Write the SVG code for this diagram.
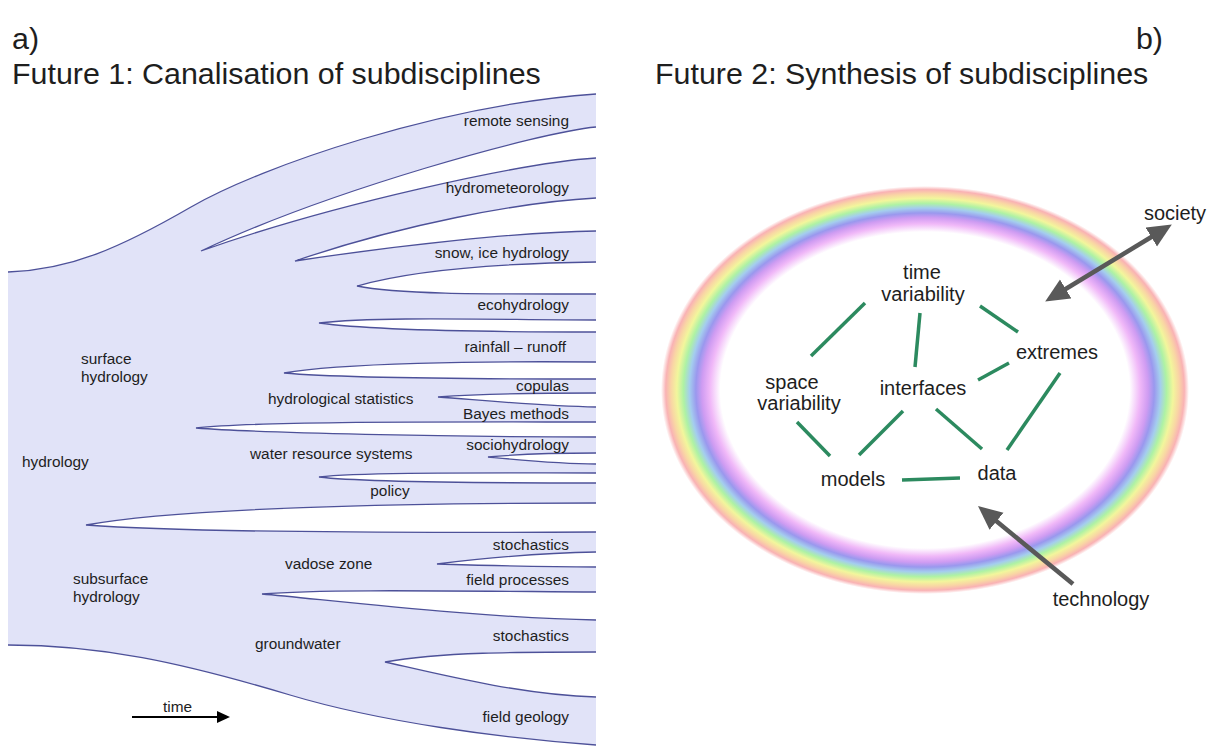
<svg xmlns="http://www.w3.org/2000/svg" width="1212" height="746" viewBox="0 0 1212 746">
<style>
text{font-family:"Liberation Sans",Arial,sans-serif;fill:#1e1e1e}
.title{font-size:30.4px}
.sm{font-size:15.4px}
.r{text-anchor:end}
.m{text-anchor:middle}
.lg{font-size:20px;text-anchor:middle}
.edge{fill:none;stroke:#4d5199;stroke-width:1.3}
.gap{fill:#ffffff;stroke:#4d5199;stroke-width:1.3}
.link{stroke:#2c8a5f;stroke-width:3.5;stroke-linecap:butt}
.ext{stroke:#595959;stroke-width:4.5;fill:none}
</style>
<defs>
<radialGradient id="rainbow" cx="0.5" cy="0.5" r="0.5">
<stop offset="0" stop-color="#ffffff"/>
<stop offset="0.775" stop-color="#ffffff"/>
<stop offset="0.815" stop-color="#f0b8f8"/>
<stop offset="0.845" stop-color="#cf9cf2"/>
<stop offset="0.868" stop-color="#9a98ee"/>
<stop offset="0.892" stop-color="#a4cdee"/>
<stop offset="0.915" stop-color="#aef2a4"/>
<stop offset="0.94" stop-color="#f2f69c"/>
<stop offset="0.962" stop-color="#f9d6a4"/>
<stop offset="0.982" stop-color="#f9b2b4"/>
<stop offset="1" stop-color="#ffffff"/>
</radialGradient>
<marker id="head" markerUnits="userSpaceOnUse" markerWidth="26" markerHeight="24" refX="2" refY="11" orient="auto-start-reverse">
<path d="M0,0 L24,11 L0,22 Z" fill="#595959"/>
</marker>
<marker id="blackhead" markerUnits="userSpaceOnUse" markerWidth="14" markerHeight="14" refX="1" refY="6" orient="auto">
<path d="M0,0 L13,6 L0,12 Z" fill="#000000"/>
</marker>
</defs>
<rect width="1212" height="746" fill="#ffffff"/>

<g id="headings">
<text class="title" x="12" y="49">a)</text>
<text class="title r" x="1163" y="49">b)</text>
<text class="title" x="12" y="84">Future 1: Canalisation of subdisciplines</text>
<text class="title" x="655" y="84">Future 2: Synthesis of subdisciplines</text>
</g>

<g id="panel-a">
<path d="M8,272 C70,270 120,248 191,207 C262,166 440,105 596,94 L596,745 C500,738 380,722 290,695 C180,662 100,645 8,645 Z" fill="#e1e3f8"/>
<path class="edge" d="M8,272 C70,270 120,248 191,207 C262,166 440,105 596,94"/>
<path class="edge" d="M8,645 C100,645 180,662 290,695 C380,722 500,738 596,745"/>
<path class="gap" d="M596,127 C540,132 330,190 201,251 C330,205 520,163 596,158"/>
<path class="gap" d="M596,198 C520,202 400,225 295,261 C400,245 520,232 596,231"/>
<path class="gap" d="M596,262 C520,263 420,268 357,286 C400,295 500,294 596,294"/>
<path class="gap" d="M596,320 C500,320 380,316 319,323 C370,330 480,332 596,332"/>
<path class="gap" d="M596,362 C480,361 340,363 284,373 C340,378 480,379 596,379"/>
<path class="gap" d="M596,393 C540,393 480,394 438,397 C480,400 540,406 596,407"/>
<path class="gap" d="M596,422 C450,422 260,421 196,428 C260,433 450,437 596,437"/>
<path class="gap" d="M596,453 C560,453 520,454 488,457 C520,460 560,464 596,464"/>
<path class="gap" d="M596,473 C480,473 360,472 319,477 C360,482 480,483 596,483"/>
<path class="gap" d="M596,503 C400,503 180,508 86,525 C180,532 400,533 596,532"/>
<path class="gap" d="M596,552 C530,553 470,560 437,564 C470,565 530,567 596,567"/>
<path class="gap" d="M596,592 C450,591 320,589 262,594 C330,600 480,618 596,620"/>
<path class="gap" d="M596,652 C520,652 440,652 385,662 C430,672 520,695 596,697"/>

<g id="labels-a">
<text class="sm r" x="569" y="126">remote sensing</text>
<text class="sm r" x="569" y="193">hydrometeorology</text>
<text class="sm r" x="569" y="258">snow, ice hydrology</text>
<text class="sm r" x="569" y="310">ecohydrology</text>
<text class="sm r" x="566" y="352">rainfall – runoff</text>
<text class="sm r" x="569" y="391">copulas</text>
<text class="sm r" x="569" y="419">Bayes methods</text>
<text class="sm r" x="569" y="450">sociohydrology</text>
<text class="sm m" x="390" y="496">policy</text>
<text class="sm r" x="569" y="550">stochastics</text>
<text class="sm r" x="569" y="585">field processes</text>
<text class="sm r" x="569" y="641">stochastics</text>
<text class="sm r" x="569" y="722">field geology</text>
<text class="sm" x="81" y="364">surface</text>
<text class="sm" x="81" y="382">hydrology</text>
<text class="sm" x="22" y="467">hydrology</text>
<text class="sm" x="268" y="404">hydrological statistics</text>
<text class="sm" x="250" y="459">water resource systems</text>
<text class="sm" x="285" y="569">vadose zone</text>
<text class="sm" x="73" y="584">subsurface</text>
<text class="sm" x="73" y="602">hydrology</text>
<text class="sm" x="255" y="649">groundwater</text>
<text class="sm" x="163" y="712">time</text>
</g>
<line x1="132" y1="717" x2="218" y2="717" stroke="#000" stroke-width="2" marker-end="url(#blackhead)"/>
</g>

<g id="panel-b">
<ellipse id="ring" cx="925" cy="390" rx="264" ry="204" fill="url(#rainbow)"/>
<g id="connectors">
<line class="link" x1="865" y1="303" x2="811" y2="356"/>
<line class="link" x1="920" y1="313" x2="915" y2="367"/>
<line class="link" x1="980" y1="306" x2="1018" y2="332"/>
<line class="link" x1="978" y1="380" x2="1009" y2="363"/>
<line class="link" x1="1060" y1="373" x2="1007" y2="450"/>
<line class="link" x1="797" y1="422" x2="830" y2="456"/>
<line class="link" x1="903" y1="411" x2="859" y2="455"/>
<line class="link" x1="936" y1="409" x2="982" y2="449"/>
<line class="link" x1="902" y1="480" x2="960" y2="478"/>
<line class="ext" x1="1064" y1="290" x2="1153" y2="236" marker-start="url(#head)" marker-end="url(#head)"/>
<line class="ext" x1="1073" y1="584" x2="995" y2="520" marker-end="url(#head)"/>
</g>
<g id="n-time"><text class="lg" x="922" y="279">time</text><text class="lg" x="923" y="301">variability</text></g>
<g id="n-space"><text class="lg" x="792" y="389">space</text><text class="lg" x="799" y="410">variability</text></g>
<g id="n-interfaces"><text class="lg" x="923" y="395">interfaces</text></g>
<g id="n-extremes"><text class="lg" x="1057" y="359">extremes</text></g>
<g id="n-models"><text class="lg" x="853" y="486">models</text></g>
<g id="n-data"><text class="lg" x="997" y="480">data</text></g>
<g id="n-society"><text class="lg" x="1175" y="220">society</text></g>
<g id="n-technology"><text class="lg" x="1101" y="606">technology</text></g>
</g>
</svg>
